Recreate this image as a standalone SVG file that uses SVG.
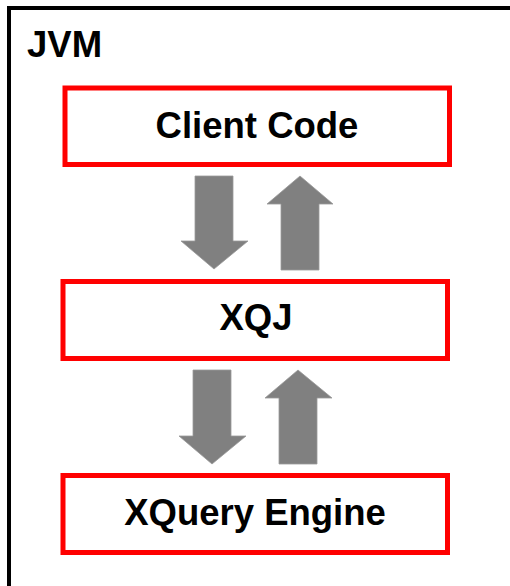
<svg xmlns="http://www.w3.org/2000/svg" width="510" height="586" viewBox="0 0 510 586">
<style>
.node{fill:#fff;stroke:#ff0000;stroke-width:5}
.lbl{font-family:"Liberation Sans",Arial,sans-serif;font-weight:bold;font-size:36.5px;fill:#000;text-anchor:middle}
.arr{fill:#808080;stroke:#999;stroke-width:0.8}
</style>
<rect width="510" height="586" fill="#fff"/>
<g id="jvm">
<path d="M9,600 V8 H520" fill="none" stroke="#000" stroke-width="4"/>
<text class="lbl" x="27" y="56.5" style="text-anchor:start">JVM</text>
</g>
<g id="client-code">
<rect class="node" x="65" y="88" width="384.5" height="76.5"/>
<text class="lbl" x="257" y="138">Client Code</text>
</g>
<g id="xqj">
<rect class="node" x="63" y="281.5" width="384.5" height="77"/>
<text class="lbl" x="256" y="330">XQJ</text>
</g>
<g id="xquery-engine">
<rect class="node" x="63" y="475.5" width="384.5" height="77"/>
<text class="lbl" x="255" y="525">XQuery Engine</text>
</g>
<g id="connectors">
<polygon class="arr" points="195,176 233,176 233,241 248,241 214,269 181,241 195,241"/>
<polygon class="arr" points="300,176 333,204 319,204 319,270 281,270 281,204 267,204"/>
<polygon class="arr" points="193,370 231,370 231,436 246,436 212,464 179,436 193,436"/>
<polygon class="arr" points="298,370 332,398 317,398 317,464 279,464 279,398 265,398"/>
</g>
</svg>
